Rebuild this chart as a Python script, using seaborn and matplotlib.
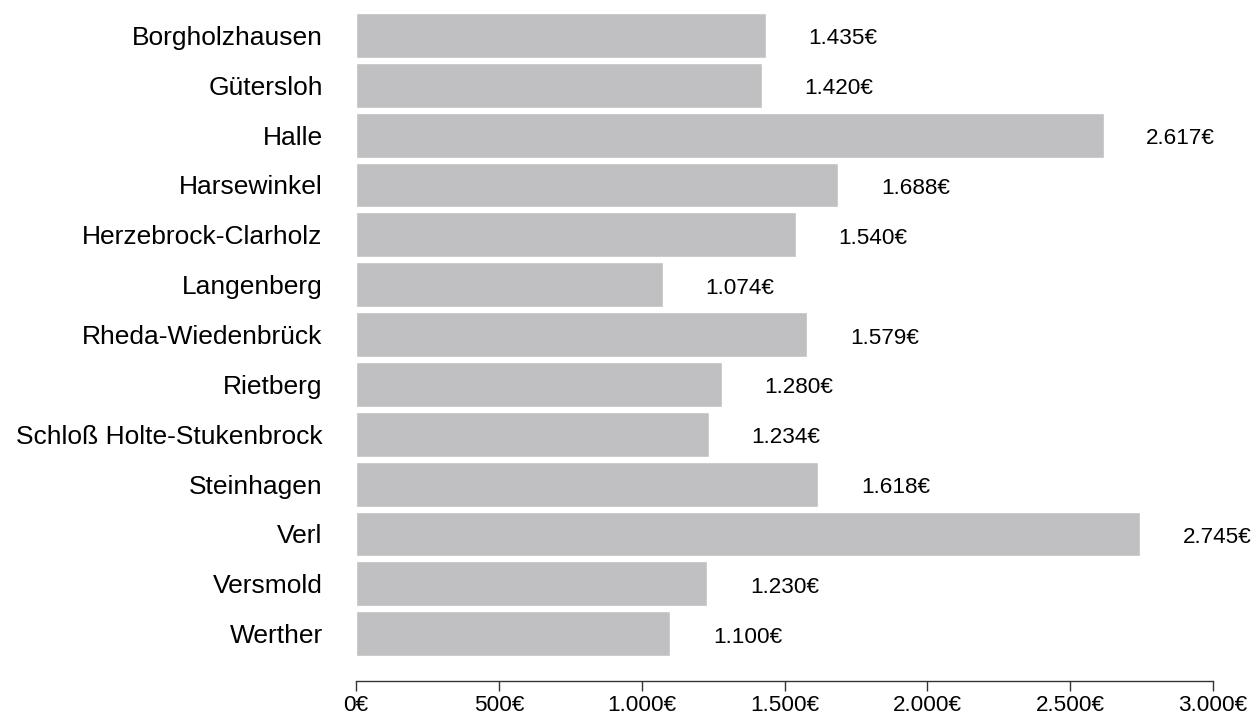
import pandas as pd
import numpy as np
import matplotlib
matplotlib.use('Agg')
import matplotlib.pyplot as plt
import seaborn as sns

# Daten
orte = ['Borgholzhausen', 'Gütersloh', 'Halle', 'Harsewinkel', 'Herzebrock-Clarholz',
        'Langenberg', 'Rheda-Wiedenbrück', 'Rietberg', 'Schloß Holte-Stukenbrock',
        'Steinhagen', 'Verl', 'Versmold', 'Werther']
werte = [1435, 1420, 2617, 1688, 1540, 1074, 1579, 1280, 1234, 1618, 2745, 1230, 1100]
x_ticks = [0, 500, 1000, 1500, 2000, 2500, 3000]

def euro(v):
    return f"{v:,.0f}".replace(',', '.') + '€'

df = pd.DataFrame({'Ort': orte, 'Wert': werte})

sns.set_style('white')
plt.rcParams['font.family'] = ['Liberation Sans', 'DejaVu Sans']
plt.rcParams['text.color'] = 'black'
plt.rcParams['xtick.color'] = 'black'
plt.rcParams['ytick.color'] = 'black'

fig = plt.figure(figsize=(12.54, 7.15), dpi=100)
ax = fig.add_axes([356 / 1254, 1 - 681 / 715, (1213 - 356) / 1254, (681 - 13) / 715])

sns.barplot(data=df, x='Wert', y='Ort', orient='h', color='#C0C0C2',
            saturation=1, width=0.9, ax=ax)

# Werte rechts neben den Balken
for i, v in enumerate(werte):
    ax.text(v + 270, i + 0.07, euro(v), ha='center', va='center',
            fontsize=16.2, color='black', clip_on=False)

ax.set_xlim(0, 3000)
ax.set_ylim(12.95, -0.45)
ax.set_xticks(x_ticks)
ax.set_xticklabels([euro(t) for t in x_ticks], fontsize=16.2)
ax.tick_params(axis='x', length=7, width=1, color='#333333', pad=3, bottom=True)
ax.tick_params(axis='y', length=0, pad=24, labelsize=19)
ax.set_xlabel('')
ax.set_ylabel('')

for s in ['top', 'right', 'left']:
    ax.spines[s].set_visible(False)
ax.spines['bottom'].set_color('#333333')
ax.spines['bottom'].set_linewidth(1)

fig.savefig('out.png', dpi=100)
